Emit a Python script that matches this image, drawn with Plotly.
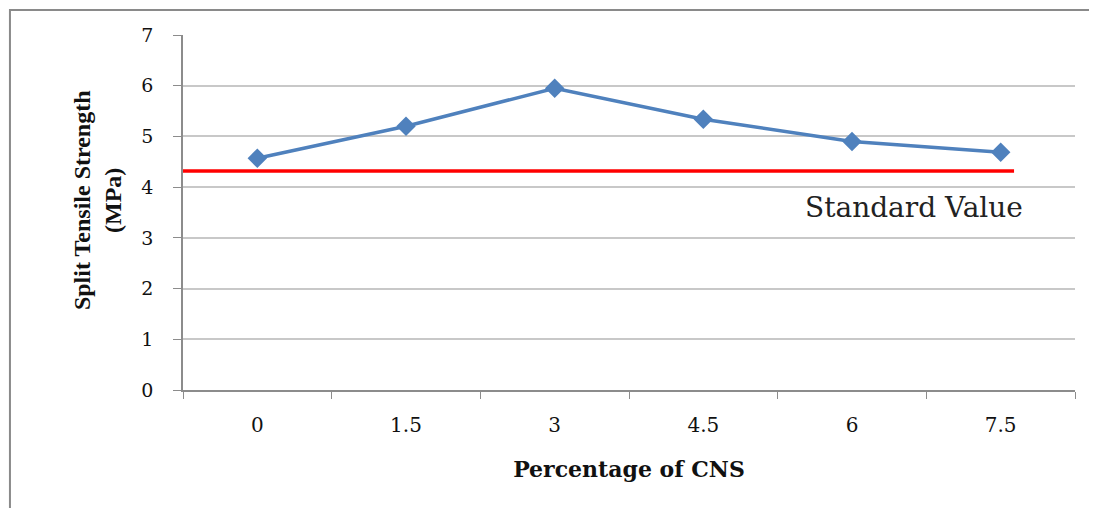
import plotly.graph_objects as go

categories = ["0", "1.5", "3", "4.5", "6", "7.5"]
strength = [4.57, 5.20, 5.95, 5.34, 4.90, 4.69]
standard_value = 4.32
standard_label = "Standard Value"
y_ticks = [0, 1, 2, 3, 4, 5, 6, 7]

fig = go.Figure()
fig.add_trace(go.Scatter(
    x=categories, y=strength, mode="lines+markers",
    line=dict(color="#4F81BD", width=3.5),
    marker=dict(symbol="diamond", size=15, color="#4F81BD"),
    showlegend=False, hoverinfo="x+y",
))

# standard value line
fig.add_shape(type="line", xref="x", yref="y",
              x0=-0.5, x1=5.09, y0=standard_value, y1=standard_value,
              line=dict(color="#FF0000", width=3.5))
fig.add_annotation(x=3.67, y=standard_value - 0.72, xref="x", yref="y",
                   text=standard_label, showarrow=False, xanchor="left",
                   font=dict(family="DejaVu Serif", size=28, color="#222"))

# y-axis title
fig.add_annotation(x=-0.0964, y=0.535, xref="paper", yref="paper",
                   text="<b>Split Tensile Strength<br>(MPa)</b>", textangle=-90,
                   showarrow=False, xanchor="center", yanchor="middle",
                   font=dict(family="Liberation Serif", size=24, color="#111"))

# outer frame
fig.add_shape(type="rect", xref="paper", yref="paper",
              x0=-0.194, x1=1.1, y0=-1.0, y1=1.0704,
              line=dict(color="#8a8a8a", width=2))

fig.update_layout(
    width=1097, height=508,
    margin=dict(l=175, r=30, t=27, b=126),
    paper_bgcolor="white", plot_bgcolor="white",
    font=dict(family="DejaVu Serif", color="#111"),
    xaxis=dict(
        type="category", range=[-0.5, 5.5], tickson="boundaries",
        ticks="outside", ticklen=7, tickcolor="#8c8c8c",
        showline=True, linecolor="#8c8c8c", linewidth=1.5,
        showgrid=False, tickfont=dict(size=20, family="DejaVu Serif"),
        ticklabelstandoff=16,
        title=dict(text="<b>Percentage of CNS</b>", standoff=26,
                   font=dict(size=22, family="DejaVu Serif")),
    ),
    yaxis=dict(
        range=[0, 7], tickvals=y_ticks, ticks="outside", ticklen=8,
        tickcolor="#8c8c8c", showline=True, linecolor="#8c8c8c", linewidth=1.5,
        showgrid=True, gridcolor="#c8c8c8", gridwidth=1.5, zeroline=False,
        tickfont=dict(size=19, family="DejaVu Serif"),
        ticklabelstandoff=16,
    ),
)

fig.write_html("out.html")
